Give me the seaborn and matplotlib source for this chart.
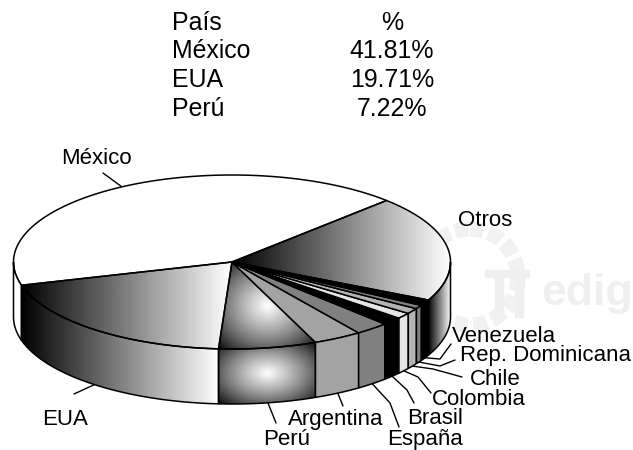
import numpy as np
import seaborn as sns
import matplotlib.pyplot as plt
from matplotlib.patches import Polygon, Circle, Rectangle

sns.set_theme(style="white")
plt.rcParams['font.family'] = ['Liberation Sans', 'DejaVu Sans']

# table at the top
tabla_paises = ['País', 'México', 'EUA', 'Perú']
tabla_pct = ['%', '41.81%', '19.71%', '7.22%']
tabla_y = [23.5, 51, 80, 108.5]

# slices, counter clockwise starting at Mexico
paises = ['México', 'EUA', 'Perú', 'Argentina', 'España', 'Brasil', 'Colombia',
          'Chile', 'Rep. Dominicana', 'Venezuela', 'Otros']
valores = [41.81, 19.71, 7.22, 3.6, 2.5, 1.5, 1.1, 1.05, 0.7, 1.1, 19.71]

# fill of each slice: a grey, or a gradient
rellenos = ['#ffffff', 'lineal', 'radial', '#a3a3a3', '#808080', '#000000', '#e6e6e6',
            '#b3b3b3', '#808080', '#000000', 'lineal']

# label left edge / vertical centre, elbows of the leader lines
etiquetas = {
    'México': (61, 159, [(103, 173)]),
    'EUA': (42, 419.5, [(74, 394)]),
    'Perú': (263, 439.5, [(276, 423)]),
    'Argentina': (288, 419, [(343, 406)]),
    'España': (387, 439.5, [(390, 403), (399, 427)]),
    'Brasil': (407, 419, [(407, 390), (414, 403)]),
    'Colombia': (432, 399.5, [(418, 377), (431, 393)]),
    'Chile': (470, 379.5, [(433, 369), (462, 377)]),
    'Rep. Dominicana': (460, 355.5, [(440, 366), (455, 360)]),
    'Venezuela': (452, 336, [(440, 359), (451, 344)]),
    'Otros': (458, 221, []),
}

CX, CY, RX, RY, ALTO = 232, 262, 218.5, 87, 55
INICIO = 45.0

gris = sns.blend_palette(['black', 'white'], as_cmap=True)


def elipse(t, dy=0):
    t = np.radians(t)
    return np.column_stack([CX + RX * np.cos(t), CY - RY * np.sin(t) + dy])


def degradado(ax, parche, tipo, zorder):
    xy = parche.get_xy()
    x0, y0 = xy.min(axis=0)
    x1, y1 = xy.max(axis=0)
    xx, yy = np.meshgrid(np.linspace(0, 1, 300), np.linspace(0, 1, 200))
    if tipo == 'lineal':
        z = xx
    else:
        z = np.clip(1 - np.hypot(xx - 0.5, yy - 0.5) * 2 / 1.41, 0, 1) ** 0.8
    im = ax.imshow(z, cmap=gris, vmin=0, vmax=1, extent=(x0, x1, y1, y0),
                   aspect='auto', zorder=zorder, interpolation='bilinear')
    im.set_clip_path(parche)


def dibuja(ax, xy, relleno):
    if relleno in ('lineal', 'radial'):
        p = Polygon(xy, closed=True, facecolor='none', edgecolor='none', zorder=2)
        ax.add_patch(p)
        degradado(ax, p, relleno, 2)
        ax.add_patch(Polygon(xy, closed=True, facecolor='none', edgecolor='black', lw=1.1, zorder=3))
    else:
        ax.add_patch(Polygon(xy, closed=True, facecolor=relleno, edgecolor='black', lw=1.1, zorder=3))


fig = plt.figure(figsize=(6.33, 4.5), dpi=100)
ax = fig.add_axes([0, 0, 1, 1])

# faint watermark behind the pie
ax.add_patch(Circle((470, 277), 48, fill=False, ec='#f1f1f1', lw=11, ls=(0, (0.9, 0.35)), zorder=1))
ax.add_patch(Rectangle((485, 270), 44, 7, color='#efefef', zorder=1))
ax.add_patch(Rectangle((495, 277), 8, 40, color='#efefef', zorder=1))
ax.add_patch(Rectangle((515, 277), 8, 40, color='#efefef', zorder=1))
ax.text(541, 305, 'edig', fontsize=32, fontweight='bold', color='#efefef', ha='left',
        va='baseline', zorder=1, clip_on=True)

angulos = INICIO + np.cumsum([0] + valores) * 3.6
for i, pais in enumerate(paises):
    t1, t2 = angulos[i], angulos[i + 1]
    arco = np.linspace(t1, t2, 120)
    top = np.vstack([[CX, CY], elipse(arco)])
    dibuja(ax, top, rellenos[i])

    # outer wall, only the front half of the disc is visible
    for desde, hasta in [(t1, t2), (t1 - 360, t2 - 360)]:
        a, b = max(desde, 180), min(hasta, 360)
        if a < b:
            arco = np.linspace(a, b, 120)
            pared = np.vstack([elipse(arco), elipse(arco[::-1], ALTO)])
            dibuja(ax, pared, rellenos[i])

    x, y, codos = etiquetas[pais]
    ax.text(x, y, pais, fontsize=16, color='black', ha='left', va='center', zorder=5)
    if codos:
        medio = (t1 + t2) / 2
        dy = ALTO if np.sin(np.radians(medio)) < 0 else 0
        linea = np.vstack([elipse(medio, dy), codos])
        ax.plot(linea[:, 0], linea[:, 1], color='black', lw=1.0, zorder=1.5)

for y, pais, pct in zip(tabla_y, tabla_paises, tabla_pct):
    ax.text(172, y, pais, fontsize=17.9, color='black', ha='left', va='center')
    ax.text(392, y, pct, fontsize=17.9, color='black', ha='center', va='center')

ax.set_xlim(0, 633)
ax.set_ylim(450, 0)
ax.axis('off')
fig.savefig('out.png', dpi=100)
